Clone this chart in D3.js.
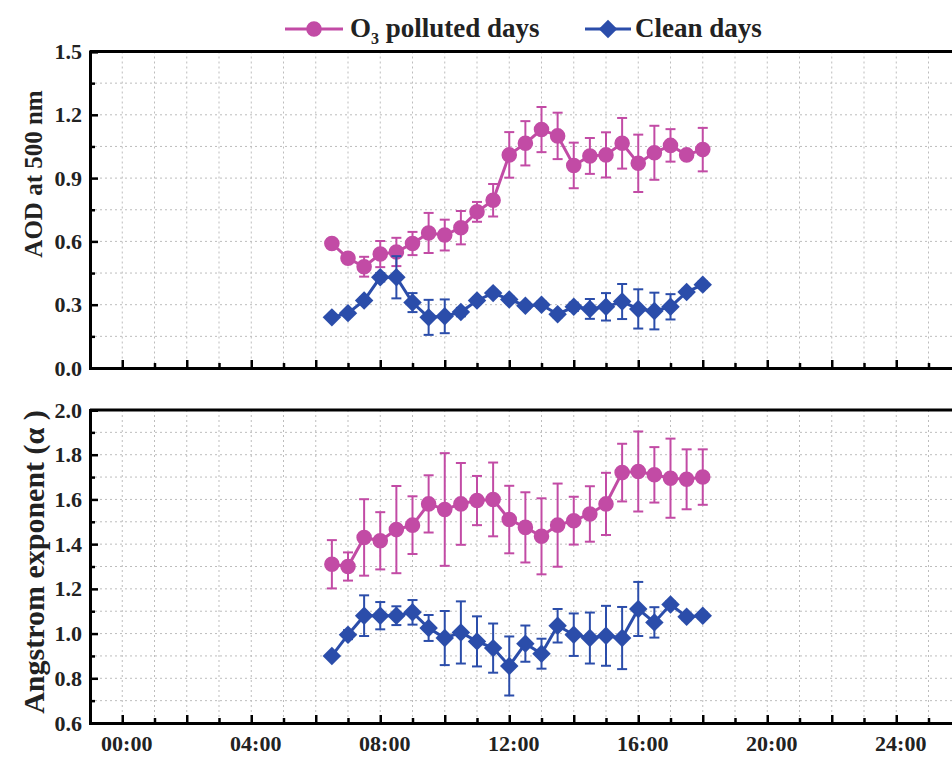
<!DOCTYPE html>
<html>
<head>
<meta charset="utf-8">
<script src="https://cdn.jsdelivr.net/npm/d3@7"></script>
<style>
  body { margin: 0; background: #fff; }
  svg text { font-family: "Liberation Serif", "DejaVu Serif", serif; font-weight: bold; }
</style>
</head>
<body>
<svg id="chart" width="952" height="760"></svg>
<script>
// hours of day, one point every half hour
const times = [6.5, 7, 7.5, 8, 8.5, 9, 9.5, 10, 10.5, 11, 11.5, 12, 12.5, 13, 13.5, 14, 14.5, 15, 15.5, 16, 16.5, 17, 17.5, 18];

const o3Aod = [0.59, 0.52, 0.48, 0.54, 0.55, 0.59, 0.64, 0.63, 0.665, 0.74, 0.795, 1.01, 1.065, 1.13, 1.10, 0.96, 1.005, 1.01, 1.065, 0.97, 1.02, 1.055, 1.01, 1.035];
const o3AodErr = [0.02, 0.02, 0.047, 0.062, 0.067, 0.055, 0.095, 0.073, 0.079, 0.047, 0.077, 0.108, 0.105, 0.107, 0.11, 0.108, 0.085, 0.107, 0.12, 0.136, 0.128, 0.077, 0.02, 0.103];
const cleanAod = [0.24, 0.26, 0.32, 0.43, 0.43, 0.31, 0.24, 0.245, 0.265, 0.32, 0.355, 0.325, 0.295, 0.30, 0.255, 0.29, 0.28, 0.29, 0.315, 0.28, 0.27, 0.29, 0.36, 0.395];
const cleanAodErr = [0.01, 0.01, 0.015, 0.02, 0.1, 0.045, 0.083, 0.08, 0.02, 0.015, 0.015, 0.015, 0.015, 0.015, 0.015, 0.02, 0.047, 0.065, 0.083, 0.093, 0.087, 0.06, 0.015, 0.015];

const o3Alpha = [1.31, 1.30, 1.43, 1.415, 1.465, 1.485, 1.58, 1.555, 1.58, 1.595, 1.60, 1.51, 1.475, 1.435, 1.485, 1.505, 1.535, 1.58, 1.72, 1.725, 1.71, 1.695, 1.69, 1.70];
const o3AlphaErr = [0.108, 0.063, 0.171, 0.128, 0.195, 0.129, 0.128, 0.252, 0.183, 0.11, 0.165, 0.151, 0.157, 0.17, 0.186, 0.107, 0.124, 0.139, 0.129, 0.179, 0.124, 0.177, 0.134, 0.124];
const cleanAlpha = [0.90, 0.995, 1.08, 1.08, 1.08, 1.095, 1.025, 0.98, 1.005, 0.965, 0.935, 0.855, 0.955, 0.91, 1.035, 0.995, 0.98, 0.99, 0.98, 1.11, 1.05, 1.13, 1.075, 1.08];
const cleanAlphaErr = [0.01, 0.02, 0.091, 0.061, 0.042, 0.055, 0.058, 0.121, 0.139, 0.112, 0.11, 0.132, 0.081, 0.067, 0.075, 0.095, 0.114, 0.134, 0.139, 0.121, 0.068, 0.015, 0.015, 0.015];

const xMajorTicks = [0, 2, 4, 6, 8, 10, 12, 14, 16, 18, 20, 22, 24, 26];
const xMinorTicks = [1, 3, 5, 7, 9, 11, 13, 15, 17, 19, 21, 23, 25];
const aodTicks = [0, 0.3, 0.6, 0.9, 1.2, 1.5];
const aodMinor = [0.15, 0.45, 0.75, 1.05, 1.35];
const alphaTicks = [0.6, 0.8, 1.0, 1.2, 1.4, 1.6, 1.8, 2.0];
const alphaMinor = [0.7, 0.9, 1.1, 1.3, 1.5, 1.7, 1.9];

const seriesNames = ['O3 polluted days', 'Clean days'];
const pink = '#c24ba5';
const blue = '#2b4daa';

const svg = d3.select('#chart');
const left = 90, right = 993;
const x = d3.scaleLinear().domain([-1, 27]).range([left, right]);

// circle for polluted days, square turned 45 degrees for clean days
const marker = (shape) => shape === 'circle'
  ? { d: d3.symbol().type(d3.symbolCircle).size(190)(), rot: 0 }
  : { d: d3.symbol().type(d3.symbolSquare).size(170)(), rot: 45 };

const panels = [
  { top: 51.5, bottom: 368, domain: [0, 1.5], ticks: aodTicks, minor: aodMinor, fmt: d3.format('.1f'),
    title: 'AOD at 500 nm', titleX: 42, titleY: 174, titleSize: 25, labels: false,
    series: [[o3Aod, o3AodErr, pink, 'circle'], [cleanAod, cleanAodErr, blue, 'diamond']] },
  { top: 410, bottom: 723, domain: [0.6, 2.0], ticks: alphaTicks, minor: alphaMinor, fmt: d3.format('.1f'),
    title: 'Angstrom exponent (α )', titleX: 44, titleY: 562, titleSize: 30, labels: true,
    series: [[o3Alpha, o3AlphaErr, pink, 'circle'], [cleanAlpha, cleanAlphaErr, blue, 'diamond']] }
];

panels.forEach((p) => {
  const y = d3.scaleLinear().domain(p.domain).range([p.bottom, p.top]);
  const g = svg.append('g');

  // dotted grid at every major and minor tick
  const grid = g.append('g').attr('stroke', '#bdbdbd').attr('stroke-width', 1).attr('stroke-dasharray', '2,3');
  [...p.ticks, ...p.minor].forEach((v) => {
    grid.append('line').attr('x1', left).attr('x2', right).attr('y1', y(v)).attr('y2', y(v));
  });
  [...xMajorTicks, ...xMinorTicks].forEach((t) => {
    grid.append('line').attr('x1', x(t)).attr('x2', x(t)).attr('y1', p.top).attr('y2', p.bottom);
  });

  // frame top line
  g.append('line').attr('x1', left).attr('x2', right).attr('y1', p.top).attr('y2', p.top)
    .attr('stroke', '#000').attr('stroke-width', 3);

  // y axis
  const gy = g.append('g').attr('transform', `translate(${left},0)`)
    .call(d3.axisLeft(y).tickValues(p.ticks).tickFormat(p.fmt).tickSize(-8).tickPadding(8));
  g.append('g').attr('transform', `translate(${left},0)`)
    .call(d3.axisLeft(y).tickValues(p.minor).tickFormat('').tickSize(-5))
    .call((s) => s.select('.domain').remove());

  // x axis
  const gx = g.append('g').attr('transform', `translate(0,${p.bottom})`)
    .call(d3.axisBottom(x).tickValues(xMajorTicks)
      .tickFormat((d) => (p.labels && d % 4 === 0 && d <= 24 ? String(d).padStart(2, '0') + ':00' : ''))
      .tickSize(-8).tickPadding(12));
  g.append('g').attr('transform', `translate(0,${p.bottom})`)
    .call(d3.axisBottom(x).tickValues(xMinorTicks).tickFormat('').tickSize(-5))
    .call((s) => s.select('.domain').remove());

  [gy, gx].forEach((a) => {
    a.select('.domain').attr('stroke-width', 3);
    a.selectAll('text').attr('font-size', 22).attr('fill', '#222');
  });
  gx.selectAll('text').attr('dx', 4);
  g.selectAll('.tick line').attr('stroke-width', 2.5);

  g.append('text')
    .attr('transform', `translate(${p.titleX},${p.titleY}) rotate(-90)`)
    .attr('text-anchor', 'middle').attr('font-size', p.titleSize).attr('fill', '#222')
    .text(p.title);

  // series
  p.series.forEach(([vals, errs, color, shape]) => {
    const s = g.append('g');
    const bars = s.append('g').attr('stroke', color).attr('stroke-width', 2);
    times.forEach((t, i) => {
      const y1 = y(vals[i] + errs[i]), y2 = y(vals[i] - errs[i]);
      bars.append('line').attr('x1', x(t)).attr('x2', x(t)).attr('y1', y1).attr('y2', y2);
      bars.append('line').attr('x1', x(t) - 5).attr('x2', x(t) + 5).attr('y1', y1).attr('y2', y1);
      bars.append('line').attr('x1', x(t) - 5).attr('x2', x(t) + 5).attr('y1', y2).attr('y2', y2);
    });
    s.append('path')
      .datum(times.map((t, i) => [t, vals[i]]))
      .attr('fill', 'none').attr('stroke', color).attr('stroke-width', 3)
      .attr('d', d3.line().x((d) => x(d[0])).y((d) => y(d[1])));
    const m = marker(shape);
    s.selectAll('path.mk').data(times).enter().append('path').attr('class', 'mk')
      .attr('transform', (t, i) => `translate(${x(t)},${y(vals[i])}) rotate(${m.rot})`)
      .attr('d', m.d).attr('fill', color);
  });
});

// legend
const legend = svg.append('g');
const legendItems = [
  { x1: 285, x2: 343, color: pink, shape: 'circle', tx: 350 },
  { x1: 585, x2: 631, color: blue, shape: 'diamond', tx: 635 }
];
legendItems.forEach((it, i) => {
  legend.append('line').attr('x1', it.x1).attr('x2', it.x2).attr('y1', 29).attr('y2', 29)
    .attr('stroke', it.color).attr('stroke-width', 3);
  const m = marker(it.shape);
  legend.append('path').attr('transform', `translate(${(it.x1 + it.x2) / 2},29) rotate(${m.rot})`)
    .attr('d', m.d).attr('fill', it.color);
  const t = legend.append('text').attr('x', it.tx).attr('y', 37).attr('font-size', 27).attr('fill', '#222');
  if (i === 0) {
    t.append('tspan').text('O');
    t.append('tspan').attr('font-size', 16).attr('dy', 7).text('3');
    t.append('tspan').attr('dy', -7).text(' polluted days');
  } else {
    t.text(seriesNames[1]);
  }
});
</script>
</body>
</html>
